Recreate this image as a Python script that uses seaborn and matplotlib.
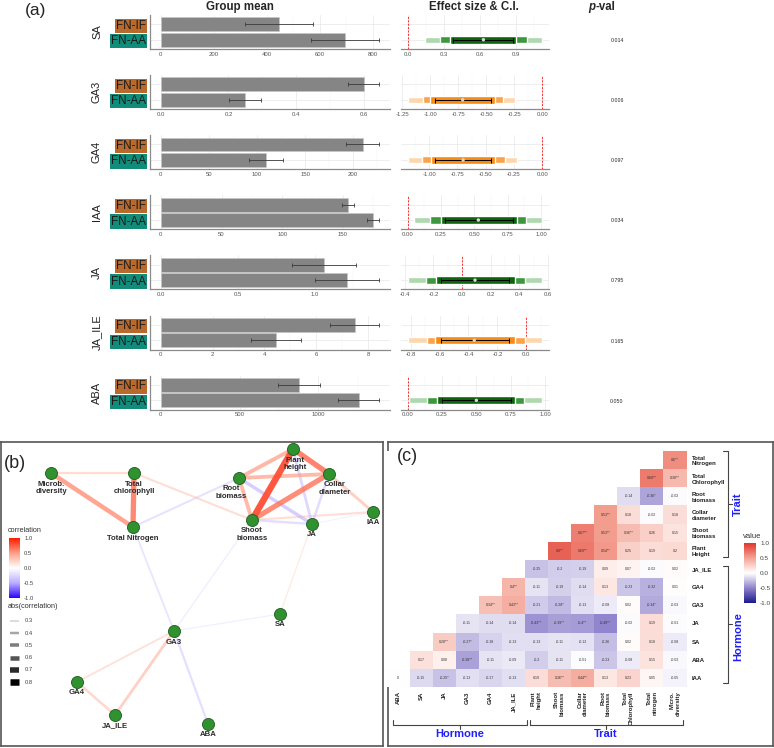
import numpy as np
import pandas as pd
import matplotlib
matplotlib.use("Agg")
import matplotlib.pyplot as plt
import seaborn as sns
from matplotlib import font_manager
from matplotlib.colors import LinearSegmentedColormap, Normalize
from matplotlib.cm import ScalarMappable
from matplotlib.ticker import MultipleLocator, FormatStrFormatter

sns.set_style("white")
plt.rcParams["font.family"] = ["Liberation Sans", "DejaVu Sans"]

W, H = 774, 748

# -------------------------------
# (a) group means / effect sizes
# -------------------------------
hormones = ["SA", "GA3", "GA4", "IAA", "JA", "JA_ILE", "ABA"]
groups = ["FN-IF", "FN-AA"]
group_colors = ["#B8692B", "#128C7A"]
mean_if = [445, 0.60, 210, 154, 1.06, 7.49, 877]
err_if = [128, 0.046, 17, 5, 0.21, 0.94, 132]
mean_aa = [695, 0.248, 109.5, 175, 1.21, 4.45, 1255]
err_aa = [128, 0.047, 17.5, 5, 0.21, 0.95, 130]
mean_step = [200, 0.2, 50, 50, 0.5, 2, 500]
mean_fmt = ["%d", "%.1f", "%d", "%d", "%.1f", "%d", "%d"]

effect = [0.63, -0.71, -0.70, 0.53, 0.09, -0.36, 0.50]
ci99_lo = [0.14, -1.20, -1.19, 0.05, -0.38, -0.82, 0.01]
ci99_hi = [1.12, -0.24, -0.22, 1.01, 0.56, 0.11, 0.98]
ci95_lo = [0.27, -1.06, -1.06, 0.17, -0.25, -0.69, 0.14]
ci95_hi = [0.99, -0.35, -0.33, 0.89, 0.44, -0.01, 0.85]
ci80_lo = [0.35, -1.00, -0.98, 0.25, -0.18, -0.63, 0.21]
ci80_hi = [0.90, -0.42, -0.42, 0.82, 0.37, -0.08, 0.78]
ci_bar_lo = [0.38, -0.96, -0.95, 0.28, -0.15, -0.59, 0.25]
ci_bar_hi = [0.88, -0.46, -0.45, 0.79, 0.33, -0.12, 0.75]
effect_step = [0.3, 0.25, 0.25, 0.25, 0.2, 0.2, 0.25]
effect_fmt = ["%.1f", "%.2f", "%.2f", "%.2f", "%.1f", "%.1f", "%.2f"]
p_vals = ["0.014", "0.006", "0.097", "0.034", "0.795", "0.165", "0.050"]

# -------------------------------
# (c) correlation matrix (lower staircase, top row first)
# -------------------------------
row_keys = ["TotN", "TotChl", "Root", "Collar", "Shoot", "Plant", "JA_ILE",
            "GA4", "GA3", "JA", "SA", "ABA", "IAA"]
row_names = ["Total\nNitrogen", "Total\nChlorophyll", "Root\nbiomass", "Collar\ndiameter",
             "Shoot\nbiomass", "Plant\nHeight", "JA_ILE", "GA4", "GA3", "JA", "SA", "ABA", "IAA"]
col_keys = ["ABA", "SA", "JA", "GA3", "GA4", "JA_ILE", "Plant", "Shoot", "Collar",
            "Root", "TotChl", "TotN", "Micro"]
col_names = ["ABA", "SA", "JA", "GA3", "GA4", "JA_ILE", "Plant\nheight", "Shoot\nbiomass",
             "Collar\ndiameter", "Root\nbiomass", "Total\nChlorophyll", "Total\nnitrogen",
             "Micro.\ndiversity"]

cor_total_nitrogen = ["0.6**"]
cor_total_chlorophyll = ["0.68**", "0.38**"]
cor_root_biomass = ["-0.14", "-0.36*", "-0.02"]
cor_collar_diameter = ["0.53**", "0.18", "-0.02", "0.18"]
cor_shoot_biomass = ["0.67**", "0.53**", "0.36**", "0.26", "0.15"]
cor_plant_height = ["0.8**", "0.69**", "0.54**", "0.25", "0.19", "0.2"]
cor_ja_ile = ["-0.25", "-0.2", "-0.19", "0.09", "0.07", "-0.02", "0.02"]
cor_ga4 = ["0.4**", "-0.11", "-0.19", "-0.14", "0.13", "-0.23", "-0.32", "0.01"]
cor_ga3 = ["0.34**", "0.43**", "-0.21", "-0.28*", "-0.13", "-0.08", "0.02", "-0.34*", "-0.03"]
cor_ja = ["-0.11", "-0.14", "-0.14", "-0.43**", "-0.39**", "-0.4**", "-0.49**", "-0.02",
          "0.19", "-0.01"]
cor_sa = ["0.28**", "-0.27*", "-0.18", "-0.13", "-0.13", "-0.11", "-0.12", "-0.26", "0.02",
          "0.18", "-0.08"]
cor_aba = ["0.17", "0.08", "-0.38**", "-0.11", "-0.09", "-0.2", "-0.11", "-0.01", "-0.23",
           "-0.08", "0.15", "-0.03"]
cor_iaa = ["0", "-0.15", "-0.25*", "-0.13", "-0.17", "-0.13", "0.19", "0.36**", "0.44**",
           "0.13", "0.23", "0.05", "-0.05"]
cor_rows = [cor_total_nitrogen, cor_total_chlorophyll, cor_root_biomass, cor_collar_diameter,
            cor_shoot_biomass, cor_plant_height, cor_ja_ile, cor_ga4, cor_ga3, cor_ja,
            cor_sa, cor_aba, cor_iaa]

# -------------------------------
# (b) network layout (significant correlations are edges)
# -------------------------------
node_keys = ["Micro", "TotChl", "TotN", "Root", "Plant", "Collar", "Shoot", "JA", "IAA",
             "SA", "GA3", "GA4", "JA_ILE", "ABA"]
node_labels = ["Microb.\ndiversity", "Total\nchlorophyll", "Total Nitrogen", "Root\nbiomass",
               "Plant\nheight", "Collar\ndiameter", "Shoot\nbiomass", "JA", "IAA", "SA",
               "GA3", "GA4", "JA_ILE", "ABA"]
node_x = [51, 134, 133, 239, 293, 329, 252, 312, 373, 280, 174, 77, 115, 208]
node_y = [473, 473, 527, 478, 449, 474, 520, 524, 512, 614, 631, 682, 715, 724]
label_dx = [0, 0, 0, -8, 2, 6, 0, 0, 0, 0, 0, 0, 0, 0]

names = {f.name for f in font_manager.fontManager.ttflist}
narrow = "Liberation Sans Narrow" if "Liberation Sans Narrow" in names else "Liberation Sans"


def rect(x0, y0, x1, y1):
    return [x0 / W, 1 - y1 / H, (x1 - x0) / W, (y1 - y0) / H]


def px(v):
    return v * 0.72


fig = plt.figure(figsize=(W / 100, H / 100), dpi=100)

green = ["#aed8ae", "#3d973d", "#0b660b"]
orange = ["#fdd6ad", "#fca24a", "#f88a10"]

for i, h in enumerate(hormones):
    bottom = 49 + 60.1 * i
    top = bottom - 34

    # group mean bars
    ax = fig.add_axes(rect(150, top, 390, bottom))
    df = pd.DataFrame({"group": groups, "mean": [mean_if[i], mean_aa[i]]})
    sns.barplot(data=df, x="mean", y="group", color="#858585", saturation=1, width=0.9,
                edgecolor="#c8c8c8", linewidth=0.4, ax=ax, zorder=2)
    ax.errorbar(df["mean"], [0, 1], xerr=[err_if[i], err_aa[i]], fmt="none",
                ecolor="#3a3a3a", elinewidth=0.6, capsize=1.6, capthick=0.6, zorder=3)
    m = max(mean_if[i] + err_if[i], mean_aa[i] + err_aa[i])
    ax.set_xlim(-0.05 * m, 1.05 * m)
    ax.set_ylim(1.6, -0.6)
    ax.xaxis.set_major_locator(MultipleLocator(mean_step[i]))
    ax.xaxis.set_minor_locator(MultipleLocator(mean_step[i] / 2))
    ax.xaxis.set_major_formatter(FormatStrFormatter(mean_fmt[i]))
    ax.set_axisbelow(True)
    ax.grid(True, which="major", color="#e8e8e8", lw=0.5)
    ax.grid(True, which="minor", axis="x", color="#f3f3f3", lw=0.35)
    ax.set_xlabel("")
    ax.set_ylabel("")
    ax.set_yticks([0, 1])
    ax.set_yticklabels(groups, fontsize=8.4, family=narrow, color="#1a1a1a")
    for lbl, c in zip(ax.get_yticklabels(), group_colors):
        lbl.set_bbox(dict(facecolor=c, edgecolor="none", pad=0.8))
    ax.tick_params(axis="y", length=0, pad=3)
    ax.tick_params(axis="x", length=0, pad=2, labelsize=4.3, labelcolor="#555555")
    for s in ["top", "right"]:
        ax.spines[s].set_visible(False)
    for s in ["left", "bottom"]:
        ax.spines[s].set_color("#8a8a8a")
        ax.spines[s].set_linewidth(0.9)

    # effect size and C.I.
    ax2 = fig.add_axes(rect(401, top, 549, bottom))
    pal = green if effect[i] > 0 else orange
    for lo_, hi_, hgt, c in [(ci99_lo, ci99_hi, 0.40, pal[0]),
                             (ci95_lo, ci95_hi, 0.46, pal[1]),
                             (ci80_lo, ci80_hi, 0.50, pal[2])]:
        ax2.barh(1, hi_[i] - lo_[i], left=lo_[i], height=hgt, color=c, zorder=2)
    ax2.errorbar(effect[i], 1,
                 xerr=[[effect[i] - ci_bar_lo[i]], [ci_bar_hi[i] - effect[i]]],
                 fmt="none", ecolor="black", elinewidth=0.7, capsize=1.8, capthick=0.7,
                 zorder=3)
    ax2.scatter([effect[i]], [1], s=6, color="#d9d9d9", edgecolor="none", zorder=4)
    ax2.axvline(0, color="#ff2a2a", ls=(0, (2, 1.5)), lw=0.7, zorder=1)
    lo = min(ci99_lo[i], 0)
    hi = max(ci99_hi[i], 0)
    pad = 0.05 * (hi - lo)
    ax2.set_xlim(lo - pad, hi + pad)
    ax2.set_ylim(1.6, -0.6)
    ax2.set_yticks([0, 1])
    ax2.set_yticklabels([])
    ax2.xaxis.set_major_locator(MultipleLocator(effect_step[i]))
    ax2.xaxis.set_minor_locator(MultipleLocator(effect_step[i] / 2))
    ax2.xaxis.set_major_formatter(FormatStrFormatter(effect_fmt[i]))
    ax2.set_axisbelow(True)
    ax2.grid(True, which="major", color="#e8e8e8", lw=0.5)
    ax2.grid(True, which="minor", axis="x", color="#f3f3f3", lw=0.35)
    ax2.tick_params(axis="both", length=0, pad=2, labelsize=4.3, labelcolor="#555555")
    for s in ["top", "right", "left"]:
        ax2.spines[s].set_visible(False)
    ax2.spines["bottom"].set_color("#8a8a8a")
    ax2.spines["bottom"].set_linewidth(0.9)

# -------------------------------
# (b) network
# -------------------------------
edge_cmap = LinearSegmentedColormap.from_list(
    "edge", ["#2A00FF", "#BBAEFF", "#FFFFFF", "#FF9F86", "#FF1A00"])
norm = Normalize(-1, 1)

axb = fig.add_axes(rect(1, 442, 383, 746))
axb.set_xlim(1, 383)
axb.set_ylim(746, 442)
axb.set_xticks([])
axb.set_yticks([])
for s in axb.spines.values():
    s.set_color("#555555")
    s.set_linewidth(1.2)

pos = {k: (x, y) for k, x, y in zip(node_keys, node_x, node_y)}
edges = []
for t, row in enumerate(cor_rows):
    n = len(row)
    for k, lab in enumerate(row):
        if "*" in lab:
            edges.append((row_keys[t], col_keys[13 - n + k], float(lab.rstrip("*"))))
edges.sort(key=lambda e: abs(e[2]))


def edge_px(a):
    return 1 + (a - 0.25) * 10


for a, b, r in edges:
    alpha = 0.35 + 0.6 * (abs(r) - 0.25) / 0.55
    axb.plot([pos[a][0], pos[b][0]], [pos[a][1], pos[b][1]], color=edge_cmap(norm(r)),
             alpha=min(alpha, 1), lw=px(edge_px(abs(r))), solid_capstyle="butt", zorder=1)

axb.scatter(node_x, node_y, s=75, color="#2f922f", edgecolors="#1d5a1d", linewidths=0.6,
            zorder=3)
for lab, x, y, dx in zip(node_labels, node_x, node_y, label_dx):
    axb.text(x + dx, y + 7.5, lab, ha="center", va="top", fontsize=5.6, fontweight="bold",
             color="#2b2b2b", zorder=4, linespacing=1.15)

# legends of (b)
axb.text(8, 531, "correlation", fontsize=5.2, color="#333333", va="center")
cb_b = fig.add_axes(rect(9, 538, 20, 598))
cbb = fig.colorbar(ScalarMappable(norm=norm, cmap=edge_cmap), cax=cb_b,
                   ticks=[-1, -0.5, 0, 0.5, 1])
cbb.outline.set_visible(False)
cbb.ax.yaxis.set_major_formatter(FormatStrFormatter("%.1f"))
cbb.ax.tick_params(labelsize=4.2, length=0, pad=3, labelcolor="#444444")

axb.text(8, 607, "abs(correlation)", fontsize=5.2, color="#333333", va="center")
abs_levels = [0.3, 0.4, 0.5, 0.6, 0.7, 0.8]
for k, a in enumerate(abs_levels):
    y = 621 + 12.2 * k
    grey = 0.82 * (0.8 - a) / 0.5
    axb.plot([10, 19], [y, y], color=str(grey), lw=px(edge_px(a)), solid_capstyle="butt")
    axb.text(25, y, "%.1f" % a, fontsize=4.2, color="#444444", va="center")

# -------------------------------
# (c) heatmap
# -------------------------------
axc_box = fig.add_axes(rect(388, 442, 773, 746))
axc_box.set_xticks([])
axc_box.set_yticks([])
for s in axc_box.spines.values():
    s.set_color("#555555")
    s.set_linewidth(1.2)

mat = np.full((13, 13), np.nan)
annot = np.full((13, 13), "", dtype=object)
for t, row in enumerate(cor_rows):
    n = len(row)
    for k, lab in enumerate(row):
        mat[t, 13 - n + k] = float(lab.rstrip("*"))
        annot[t, 13 - n + k] = lab
df_c = pd.DataFrame(mat, index=row_names, columns=col_names)

heat_cmap = LinearSegmentedColormap.from_list(
    "heat", ["#1A1A8C", "#8F83CC", "#FFFFFF", "#F4A394", "#E0372C"])
axc = fig.add_axes(rect(386.5, 451, 686.5, 687))
caxc = fig.add_axes(rect(744, 543, 756, 603))
sns.heatmap(df_c, mask=np.isnan(mat), cmap=heat_cmap, vmin=-1, vmax=1, annot=annot, fmt="",
            annot_kws={"fontsize": 2.6, "color": "#333333"}, cbar_ax=caxc, ax=axc,
            cbar_kws={"ticks": [-1, -0.5, 0, 0.5, 1]})
axc.yaxis.tick_right()
axc.set_yticklabels(row_names, rotation=0, ha="left", fontsize=4.3, fontweight="bold",
                    color="#222222")
axc.set_xticklabels(col_names, rotation=90, fontsize=4.3, fontweight="bold", color="#222222")
for lbl in axc.get_xticklabels():
    lbl.set_multialignment("right")
axc.tick_params(axis="y", length=0, pad=4)
axc.tick_params(axis="x", length=0, pad=3)
axc.set_xlabel("")
axc.set_ylabel("")
cbc = axc.collections[0].colorbar
cbc.outline.set_visible(False)
cbc.ax.yaxis.set_major_formatter(FormatStrFormatter("%.1f"))
cbc.ax.tick_params(labelsize=4.6, length=0, pad=3, labelcolor="#444444")

# -------------------------------
# overlay: titles, panel letters, brackets
# -------------------------------
ov = fig.add_axes([0, 0, 1, 1], zorder=10)
ov.set_xlim(0, W)
ov.set_ylim(H, 0)
ov.axis("off")

ov.text(36, 10, "(a)", fontsize=12.5, ha="center", va="center")
ov.text(15, 463, "(b)", fontsize=13, ha="center", va="center")
ov.text(407, 456, "(c)", fontsize=13, ha="center", va="center")

ov.text(240, 6.5, "Group mean", fontsize=8.3, fontweight="bold", family=narrow,
        ha="center", va="center")
ov.text(474, 6.5, "Effect size & C.I.", fontsize=8.3, fontweight="bold", family=narrow,
        ha="center", va="center")
ov.text(595, 6.5, "p", fontsize=8.3, fontweight="bold", fontstyle="italic", family=narrow,
        ha="right", va="center")
ov.text(595, 6.5, "-val", fontsize=8.3, fontweight="bold", family=narrow,
        ha="left", va="center")

for i, h in enumerate(hormones):
    bottom = 49 + 60.1 * i
    ov.text(97, bottom - 17, h, rotation=90, fontsize=8, family=narrow, color="#222222",
            ha="center", va="center")
    ov.text(617, bottom - 8.5, p_vals[i], fontsize=3.8, ha="center", va="center")

blue = "#1F1FFF"
bk = dict(color="#444444", lw=0.8)
# right brackets
for y0, y1, ym, lab, yl in [(451, 557, 504, "Trait", 504), (566, 683, 624, "Hormone", 637)]:
    ov.plot([723, 728, 728, 723], [y0, y0, y1, y1], **bk)
    ov.plot([728, 732], [ym, ym], **bk)
    ov.text(738, yl, lab, rotation=90, fontsize=8, fontweight="bold", color=blue,
            ha="center", va="center")
# bottom brackets
for x0, x1, xm, lab in [(393, 527, 460, "Hormone"), (530, 683, 606, "Trait")]:
    ov.plot([x0, x0, x1, x1], [720, 725, 725, 720], **bk)
    ov.plot([xm, xm], [725, 729], **bk)
    ov.text(xm, 734, lab, fontsize=8, fontweight="bold", color=blue, ha="center",
            va="center")
ov.text(752, 536, "value", fontsize=5.5, color="#333333", ha="center", va="center")

fig.savefig("out.png", dpi=100)
